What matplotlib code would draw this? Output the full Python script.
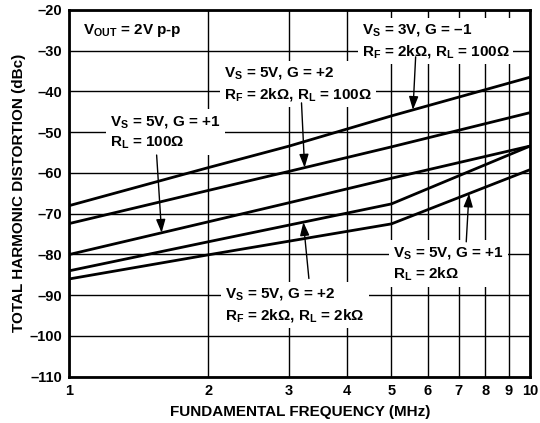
import numpy as np
import matplotlib
matplotlib.use("Agg")
import matplotlib.pyplot as plt
from matplotlib.ticker import FixedLocator, NullLocator

plt.rcParams['font.family'] = ['Liberation Sans', 'DejaVu Sans']
plt.rcParams['font.weight'] = 'bold'
plt.rcParams['mathtext.fontset'] = 'custom'
plt.rcParams['mathtext.rm'] = 'Liberation Sans:bold'
plt.rcParams['mathtext.default'] = 'rm'

# THD curves (dBc), frequency in MHz
f_straight = [1, 2, 3, 5, 10]
thd_3v_g1_100 = [-68.0, -58.7, -53.4, -46.0, -36.5]       # VS=3V, G=-1, RF=2k, RL=100
thd_5v_g2_100 = [-72.4, -64.3, -59.6, -53.6, -45.2]       # VS=5V, G=+2, RF=2k, RL=100
thd_5v_g1_100 = [-80.0, -72.0, -67.3, -61.3, -53.4]       # VS=5V, G=+1, RL=100
f_kink = [1, 2, 5, 10]
thd_5v_g2_2k = [-84.0, -76.9, -67.6, -53.4]               # VS=5V, G=+2, RF=2k, RL=2k
thd_5v_g1_2k = [-86.0, -80.1, -72.5, -59.2]               # VS=5V, G=+1, RL=2k

xticks = [1, 2, 3, 4, 5, 6, 7, 8, 9, 10]
yticks = list(range(-110, -19, 10))

fig = plt.figure(figsize=(5.4, 4.23), dpi=100)
ax = fig.add_axes([0.1287, 0.1095, 0.8528, 0.8669])
ax.set_xscale('log')
ax.set_xlim(1, 10)
ax.set_ylim(-110, -20)
ax.xaxis.set_major_locator(FixedLocator(xticks))
ax.xaxis.set_minor_locator(NullLocator())
ax.set_xticklabels([str(t) for t in xticks])
ax.set_yticks(yticks)
ax.set_yticklabels(['\u2013' + str(abs(t)) for t in yticks])
ax.tick_params(length=0, labelsize=10.5, pad=5)
ax.grid(True, color='black', linewidth=1.0)
for s in ax.spines.values():
    s.set_linewidth(2)

curves = [(f_straight, thd_3v_g1_100), (f_straight, thd_5v_g2_100),
          (f_straight, thd_5v_g1_100), (f_kink, thd_5v_g2_2k), (f_kink, thd_5v_g1_2k)]
for fx, fy in curves:
    ax.plot(fx, fy, color='black', linewidth=2, zorder=5, solid_capstyle='butt')


def ypos(fx, fy, x):
    return np.interp(np.log10(x), np.log10(fx), fy)


box = dict(facecolor='white', edgecolor='none', pad=3)
tkw = dict(fontsize=11, fontweight='bold', ha='left', va='center',
           linespacing=1.4, bbox=box, zorder=4)

ax.text(1.068, -25.0, r'V$_{\rm OUT}$ = 2V p-p', **tkw)
ax.text(4.31, -27.6, 'V$_{\\rm S}$ = 3V, G = \u20131\nR$_{\\rm F}$ = 2k\u03a9, R$_{\\rm L}$ = 100\u03a9', **tkw)
ax.text(2.163, -38.2, 'V$_{\\rm S}$ = 5V, G = +2\nR$_{\\rm F}$ = 2k\u03a9, R$_{\\rm L}$ = 100\u03a9', **tkw)
ax.text(1.224, -50.0, 'V$_{\\rm S}$ = 5V, G = +1\nR$_{\\rm L}$ = 100\u03a9', **tkw)
ax.text(5.05, -82.3, 'V$_{\\rm S}$ = 5V, G = +1\nR$_{\\rm L}$ = 2k\u03a9', **tkw)
ax.text(2.18, -92.4, 'V$_{\\rm S}$ = 5V, G = +2\nR$_{\\rm F}$ = 2k\u03a9, R$_{\\rm L}$ = 2k\u03a9', **tkw)

arrows = [
    (5.645, -31.5, 5.57, f_straight, thd_3v_g1_100),
    (3.19, -42.8, 3.24, f_straight, thd_5v_g2_100),
    (1.546, -55.6, 1.585, f_straight, thd_5v_g1_100),
    (7.27, -76.9, 7.37, f_kink, thd_5v_g1_2k),
    (3.31, -85.9, 3.22, f_kink, thd_5v_g2_2k),
]
for tx, ty, hx, fx, fy in arrows:
    ax.annotate('', xy=(hx, ypos(fx, fy, hx)), xytext=(tx, ty),
                arrowprops=dict(arrowstyle='-|>,head_length=0.8,head_width=0.28',
                                color='black', lw=1.0, shrinkA=0, shrinkB=0),
                zorder=6)

ax.set_xlabel('FUNDAMENTAL FREQUENCY (MHz)', fontsize=11, fontweight='bold', labelpad=5)
ax.set_ylabel('TOTAL HARMONIC DISTORTION (dBc)', fontsize=11, fontweight='bold', labelpad=3)

fig.savefig('out.png', dpi=100)
